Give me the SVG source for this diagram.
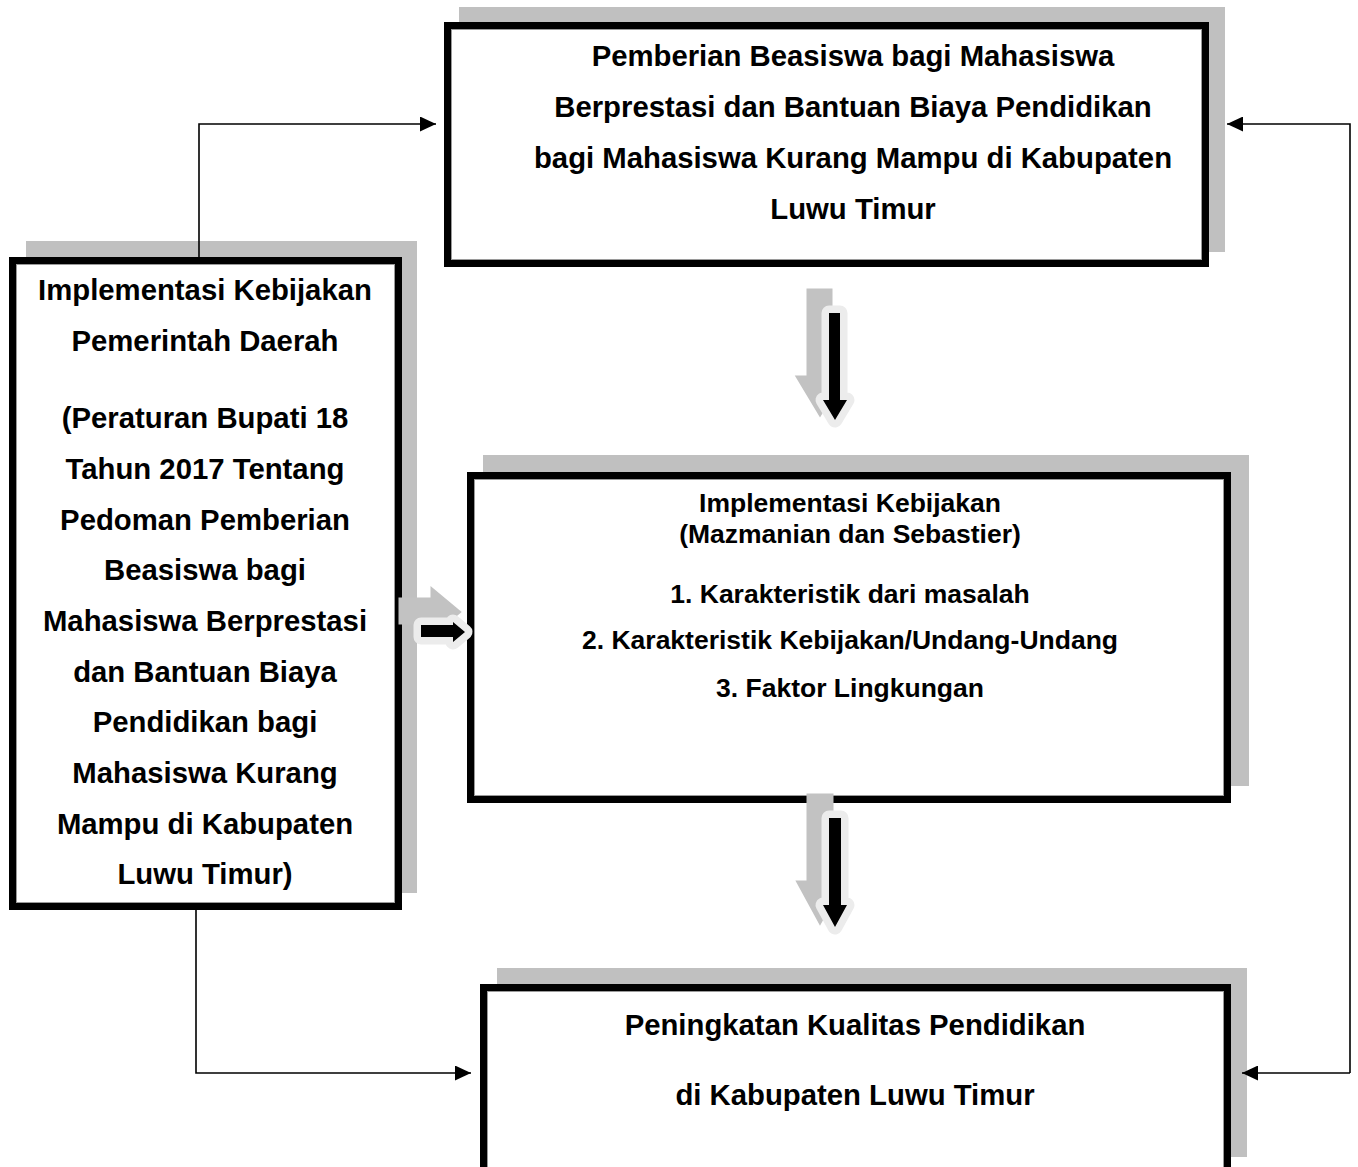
<svg xmlns="http://www.w3.org/2000/svg" width="1358" height="1167" viewBox="0 0 1358 1167">
<style>
.shadow{fill:#c0c0c0;stroke:none}
.box{fill:#ffffff;stroke:#000000;stroke-width:7}
.inner{fill:none;stroke:#9a9a9a;stroke-width:1}
.t{font-family:"Liberation Sans",Arial,sans-serif;font-weight:bold;font-size:29.3px;fill:#000;text-anchor:middle}
.tm{font-family:"Liberation Sans",Arial,sans-serif;font-weight:bold;font-size:26.5px;fill:#000;text-anchor:middle}
.conn{fill:none;stroke:#000;stroke-width:1.6}
.barrow{fill:#000;stroke:#ececec;stroke-width:15;stroke-linejoin:round;paint-order:stroke}
.barrow-sh{fill:#bdbdbd;stroke:#c2c2c2;stroke-width:15;stroke-linejoin:miter;stroke-miterlimit:3}
</style>
<defs>
<marker id="ah" viewBox="0 0 16 15" refX="16" refY="7.5" markerWidth="16" markerHeight="15" markerUnits="userSpaceOnUse" orient="auto">
<path d="M0,0 L16,7.5 L0,15 Z" fill="#000"/>
</marker>
</defs>

<g id="node-top">
<rect class="shadow" x="459" y="7" width="766" height="245"/>
<rect class="box" x="447.5" y="25.5" width="758" height="238"/>
<rect class="inner" x="451.5" y="29.5" width="750" height="230"/>
<text class="t" x="853" y="66">Pemberian Beasiswa bagi Mahasiswa</text>
<text class="t" x="853" y="117">Berprestasi dan Bantuan Biaya Pendidikan</text>
<text class="t" x="853" y="168">bagi Mahasiswa Kurang Mampu di Kabupaten</text>
<text class="t" x="853" y="219">Luwu Timur</text>
</g>

<g id="node-left">
<rect class="shadow" x="26" y="241" width="391" height="652"/>
<rect class="box" x="12.5" y="260.5" width="386" height="646"/>
<rect class="inner" x="16.5" y="264.5" width="378" height="638"/>
<text class="t" x="205" y="300">Implementasi Kebijakan</text>
<text class="t" x="205" y="351">Pemerintah Daerah</text>
<text class="t" x="205" y="428">(Peraturan Bupati 18</text>
<text class="t" x="205" y="479">Tahun 2017 Tentang</text>
<text class="t" x="205" y="530">Pedoman Pemberian</text>
<text class="t" x="205" y="580">Beasiswa bagi</text>
<text class="t" x="205" y="631">Mahasiswa Berprestasi</text>
<text class="t" x="205" y="682">dan Bantuan Biaya</text>
<text class="t" x="205" y="732">Pendidikan bagi</text>
<text class="t" x="205" y="783">Mahasiswa Kurang</text>
<text class="t" x="205" y="834">Mampu di Kabupaten</text>
<text class="t" x="205" y="884">Luwu Timur)</text>
</g>

<g id="node-middle">
<rect class="shadow" x="483" y="455" width="766" height="331"/>
<rect class="box" x="470.5" y="475.5" width="757" height="324"/>
<rect class="inner" x="474.5" y="479.5" width="749" height="316"/>
<text class="tm" x="850" y="512">Implementasi Kebijakan</text>
<text class="tm" x="850" y="543">(Mazmanian dan Sebastier)</text>
<text class="tm" x="850" y="603">1. Karakteristik dari masalah</text>
<text class="tm" x="850" y="649">2. Karakteristik Kebijakan/Undang-Undang</text>
<text class="tm" x="850" y="697">3. Faktor Lingkungan</text>
</g>

<g id="node-bottom">
<rect class="shadow" x="497" y="968" width="750" height="189"/>
<rect class="box" x="483.5" y="987.5" width="744" height="200"/>
<rect class="inner" x="487.5" y="991.5" width="736" height="192"/>
<text class="t" x="855" y="1035">Peningkatan Kualitas Pendidikan</text>
<text class="t" x="855" y="1105">di Kabupaten Luwu Timur</text>
</g>

<g id="connectors">
<polyline class="conn" points="199,257 199,124 436,124" marker-end="url(#ah)"/>
<polyline class="conn" points="1350,1073 1350,124 1227,124" marker-end="url(#ah)"/>
<polyline class="conn" points="1350,1073 1242,1073" marker-end="url(#ah)"/>
<polyline class="conn" points="196,910 196,1073 471,1073" marker-end="url(#ah)"/>

<g id="block-arrow-1">
<path class="barrow-sh" transform="translate(-15,-17)" d="M829,313 L840,313 L840,400 L847,400 L835,420 L823,400 L829,400 Z"/>
<path class="barrow" d="M829,313 L840,313 L840,400 L847,400 L835,420 L823,400 L829,400 Z"/>
</g>
<g id="block-arrow-2">
<path class="barrow-sh" transform="translate(-15,-17)" d="M829,818 L841,818 L841,905 L847,905 L835,927 L823,905 L829,905 Z"/>
<path class="barrow" d="M829,818 L841,818 L841,905 L847,905 L835,927 L823,905 L829,905 Z"/>
</g>
<g id="block-arrow-3">
<path class="barrow-sh" transform="translate(-15,-20)" d="M421,625 L453,625 L453,622 L465,632 L453,642 L453,637 L421,637 Z"/>
<path class="barrow" d="M421,625 L453,625 L453,622 L465,632 L453,642 L453,637 L421,637 Z"/>
</g>
</g>
</svg>
